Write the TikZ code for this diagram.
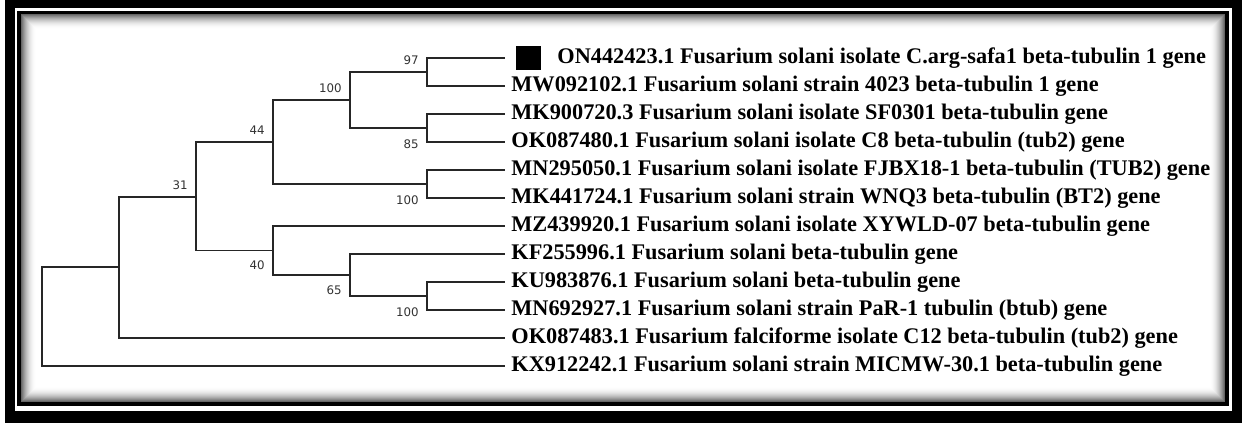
\documentclass[tikz,border=0pt]{standalone}
\usepackage{fontspec}
\setmainfont{Liberation Serif}
\newfontfamily\supportfont{DejaVu Sans}
\usetikzlibrary{positioning}

\tikzset{
  branch/.style={line width=0.55pt, black!85, line cap=rect},
  support/.style={font=\supportfont\fontsize{5.9}{6}\selectfont, text=black!80, inner sep=0pt},
  leaf/.style={font=\bfseries\fontsize{11.15}{13}\selectfont, inner sep=0pt, anchor=west},
}

\begin{document}
\begin{tikzpicture}[x=0.5pt,y=-0.5pt]
\useasboundingbox (0,0) rectangle (1242,423);

% Frame: heavy black border, thin white and black rules, soft inner shadow.
\fill[white] (0,0) rectangle (1242,423);
\fill[black] (5,0) rectangle (1242,423);
\fill[white] (15,8) rectangle (1232,411);
\fill[black] (17,11) rectangle (1229,406);
\foreach \i [evaluate=\i as \g using 60*(1-\i/15)^2] in {0,...,15}
  \fill[black!\g] (21+\i,14+\i) rectangle (1225-\i,402-\i);

% Internal nodes of the tree.
\coordinate (root) at (42,316.5);
\coordinate (ingroup) at (119,267);
\coordinate (c31) at (196,197);
\coordinate (c44) at (273,142);
\coordinate (c100a) at (350,100);
\coordinate (c97) at (427,72);
\coordinate (c85) at (427,128);
\coordinate (c100b) at (427,184);
\coordinate (c40) at (273,250.5);
\coordinate (c65) at (350,275);
\coordinate (c100c) at (427,296);

% Tips of the leaves.
\foreach \i in {1,...,12}
  \coordinate (p\i) at (504,30+28*\i);

% Branches.
\foreach \a/\b in {root/ingroup, root/p12, ingroup/c31, ingroup/p11,
                   c31/c44, c31/c40, c44/c100a, c44/c100b,
                   c100a/c97, c100a/c85, c97/p1, c97/p2, c85/p3, c85/p4,
                   c100b/p5, c100b/p6, c40/p7, c40/c65, c65/p8, c65/c100c,
                   c100c/p9, c100c/p10}
  \draw[branch] (\a) |- (\b);

% Bootstrap values.
\node[support, above left=3.5pt and 4pt of c97] (s97) {97};
\node[support, above left=3.5pt and 4pt of c100a] (s100a) {100};
\node[support, above left=3.5pt and 4pt of c44] (s44) {44};
\node[support, above left=3.5pt and 4pt of c31] (s31) {31};
\node[support, below left=5.5pt and 4pt of c85] (s85) {85};
\node[support, below left=5.5pt and 4pt of c100b] (s100b) {100};
\node[support, below left=5pt and 4pt of c40] (s40) {40};
\node[support, below left=5pt and 4pt of c65] (s65) {65};
\node[support, below left=5.5pt and 4pt of c100c] (s100c) {100};

% Leaf names; the query sequence is marked with a black square.
\node[fill=black, minimum width=12.5pt, minimum height=12pt, inner sep=0pt] (mark) at (528.5,57.5) {};
\node[leaf] (t1) at (557,58) {ON442423.1 Fusarium solani isolate C.arg-safa1 beta-tubulin 1 gene};
\foreach \lab [count=\i from 2] in {
    {MW092102.1 Fusarium solani strain 4023 beta-tubulin 1 gene},
    {MK900720.3 Fusarium solani isolate SF0301 beta-tubulin gene},
    {OK087480.1 Fusarium solani isolate C8 beta-tubulin (tub2) gene},
    {MN295050.1 Fusarium solani isolate FJBX18-1 beta-tubulin (TUB2) gene},
    {MK441724.1 Fusarium solani strain WNQ3 beta-tubulin (BT2) gene},
    {MZ439920.1 Fusarium solani isolate XYWLD-07 beta-tubulin gene},
    {KF255996.1 Fusarium solani beta-tubulin gene},
    {KU983876.1 Fusarium solani beta-tubulin gene},
    {MN692927.1 Fusarium solani strain PaR-1 tubulin (btub) gene},
    {OK087483.1 Fusarium falciforme isolate C12 beta-tubulin (tub2) gene},
    {KX912242.1 Fusarium solani strain MICMW-30.1 beta-tubulin gene}}
  \node[leaf] (t\i) at (511,30+28*\i) {\lab};
\end{tikzpicture}
\end{document}
